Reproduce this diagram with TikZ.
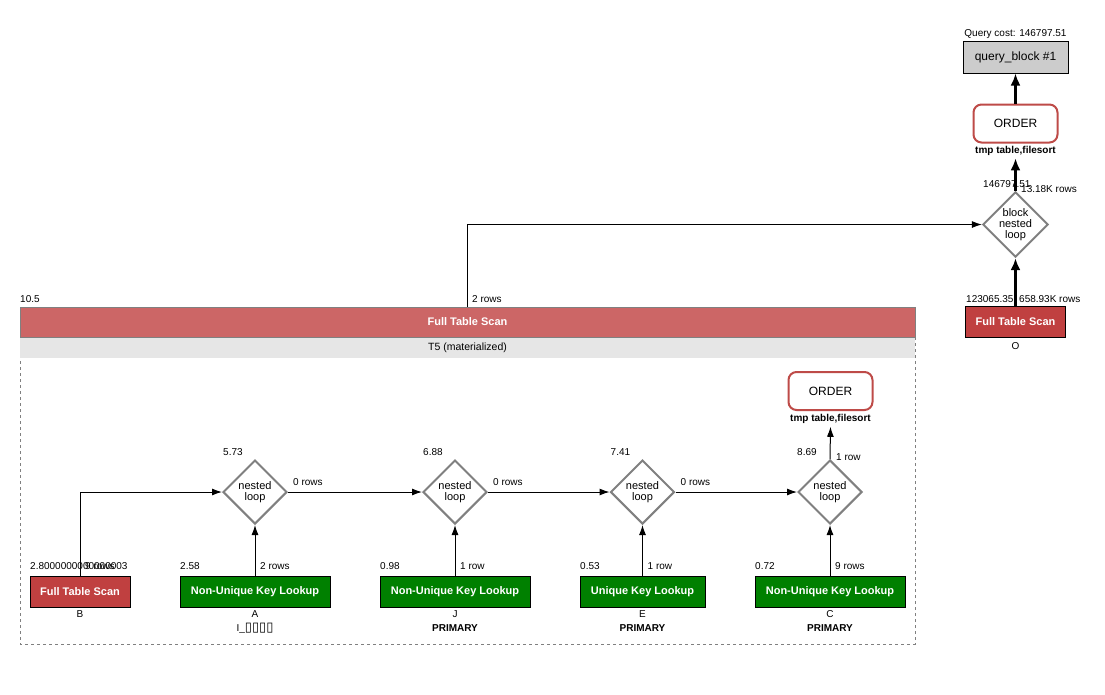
\documentclass[tikz,border=0pt]{standalone}
\usepackage{fontspec}
\setmainfont{Liberation Sans}
\newfontfamily\tofufont{DejaVu Sans}
\usetikzlibrary{shapes.geometric,arrows.meta,calc}

\definecolor{scanred}{RGB}{192,64,64}
\definecolor{headred}{RGB}{204,102,102}
\definecolor{lookgreen}{RGB}{0,128,0}
\definecolor{orderred}{RGB}{190,75,72}
\definecolor{bargray}{RGB}{230,230,230}
\definecolor{blockgray}{RGB}{204,204,204}
\definecolor{loopgray}{RGB}{128,128,128}

\begin{document}
\begin{tikzpicture}[x=1pt,y=-1pt]
  \def\XGL{20}
  \def\XGR{915}
  \def\XGM{467.5}
  \def\XR{1015.5}
  \def\YLOOP{492}
  \def\YBOX{591.5}
  \def\YCOST{569}
  \def\YNAME{617}
  \def\YKEY{631}
  \def\XB{80}
  \def\XA{255}
  \def\XJ{455}
  \def\XE{642.5}
  \def\XC{830}

  \tikzset{
      small/.style={font=\fontsize{10}{12}\selectfont, inner sep=0},
      keyname/.style={font=\bfseries\fontsize{10}{12}\selectfont, inner sep=0},
      opbox/.style={draw=black, line width=1, text=white, inner sep=0,
        font=\bfseries\fontsize{11}{13}\selectfont, minimum height=31},
      scan/.style={opbox, fill=scanred, minimum width=100},
      lookup/.style={opbox, fill=lookgreen, minimum width=150},
      loop/.style={diamond, aspect=1, draw=loopgray, line width=2, fill=white,
        minimum width=64, minimum height=64, inner sep=0, align=center,
        font=\fontsize{11}{11}\selectfont},
      order/.style={draw=orderred, line width=2, rounded corners=8, fill=white,
        minimum width=84, minimum height=38, font=\fontsize{12}{14}\selectfont},
      flow/.style={-{Latex[length=10,width=7]}, line width=1},
      bigflow/.style={-{Latex[length=12,width=10]}, line width=3},
  }

  \useasboundingbox (0,0) rectangle (1105,694);

  % query block and its inputs
  \node [small, anchor=base] (qcost) at (\XR,36) {Query cost: 146797.51};
  \node [draw=black, line width=1, fill=blockgray, minimum width=105,
    minimum height=32, font=\fontsize{12}{14}\selectfont] (qb) at (\XR,57)
    {query\_block \#1};
  \node [order] (order1) at (\XR,123.5) {ORDER};
  \node [keyname, anchor=base] (sort1) at (\XR,153) {tmp table,filesort};
  \node [loop] (bnl) at (\XR,224.5) {block\\nested\\loop};
  \node [scan] (o) at (\XR,321.5) {Full Table Scan};
  \node [small, anchor=base] (oname) at (\XR,349) {O};

  \node [small, anchor=base west] (bnlcost) at (983,187) {146797.51};
  \node [small, anchor=base west] (bnlrows) at (1021,192) {13.18K rows};
  \node [small, anchor=base west] (ocost) at (966,302) {123065.35};
  \node [small, anchor=base west] (orows) at (1019,302) {658.93K rows};

  \draw [bigflow] (order1.north) -- (qb.south);
  \draw [bigflow] (bnl.north) -- ([yshift=-3]sort1.south);
  \draw [bigflow] (o.north) -- (bnl.south);

  % materialized T5
  \draw [loopgray, dashed, line width=1] (\XGL,307) rectangle (\XGR,644);
  \node [draw=loopgray, fill=headred, text=white, inner sep=0,
    minimum width=895, minimum height=30,
    font=\bfseries\fontsize{11}{13}\selectfont] (t5scan) at (\XGM,322)
    {Full Table Scan};
  \node [fill=bargray, inner sep=0, minimum width=895, minimum height=20,
    font=\fontsize{10.5}{12}\selectfont] (t5name) at (\XGM,347.5)
    {T5 (materialized)};
  \node [small, anchor=base west] (t5cost) at (20,302) {10.5};
  \node [small, anchor=base west] (t5rows) at (472,302) {2 rows};
  \draw [flow] (t5scan.north) |- (bnl.west);

  \node [order] (order2) at (830.5,391) {ORDER};
  \node [keyname, anchor=base] (sort2) at (830.5,421.5) {tmp table,filesort};

  \node [loop] (loop1) at (\XA,\YLOOP) {nested\\loop};
  \node [loop] (loop2) at (\XJ,\YLOOP) {nested\\loop};
  \node [loop] (loop3) at (\XE,\YLOOP) {nested\\loop};
  \node [loop] (loop4) at (\XC,\YLOOP) {nested\\loop};

  \node [small, anchor=base west] (cost1) at (223,455) {5.73};
  \node [small, anchor=base west] (cost2) at (423,455) {6.88};
  \node [small, anchor=base west] (cost3) at (610.5,455) {7.41};
  \node [small, anchor=base west] (cost4) at (797,455) {8.69};
  \node [small, anchor=base west] (rows1) at ($(loop1.east)+(5,-7)$) {0 rows};
  \node [small, anchor=base west] (rows2) at ($(loop2.east)+(5,-7)$) {0 rows};
  \node [small, anchor=base west] (rows3) at ($(loop3.east)+(5,-7)$) {0 rows};
  \node [small, anchor=base west] (rows4) at (836,460) {1 row};

  \node [scan] (b) at (\XB,\YBOX) {Full Table Scan};
  \node [lookup] (a) at (\XA,\YBOX) {Non-Unique Key Lookup};
  \node [lookup] (j) at (\XJ,\YBOX) {Non-Unique Key Lookup};
  \node [lookup, minimum width=125] (e) at (\XE,\YBOX) {Unique Key Lookup};
  \node [lookup] (c) at (\XC,\YBOX) {Non-Unique Key Lookup};

  \node [small, anchor=base west] (bcost) at (30,\YCOST) {2.8000000000000003};
  \node [small, anchor=base west] (brows) at (\XB+5,\YCOST) {9 rows};
  \node [small, anchor=base west] (acost) at (180,\YCOST) {2.58};
  \node [small, anchor=base west] (arows) at (\XA+5,\YCOST) {2 rows};
  \node [small, anchor=base west] (jcost) at (380,\YCOST) {0.98};
  \node [small, anchor=base west] (jrows) at (\XJ+5,\YCOST) {1 row};
  \node [small, anchor=base west] (ecost) at (580,\YCOST) {0.53};
  \node [small, anchor=base west] (erows) at (\XE+5,\YCOST) {1 row};
  \node [small, anchor=base west] (ccost) at (755,\YCOST) {0.72};
  \node [small, anchor=base west] (crows) at (\XC+5,\YCOST) {9 rows};

  \node [small, anchor=base] (bname) at (\XB,\YNAME) {B};
  \node [small, anchor=base] (aname) at (\XA,\YNAME) {A};
  \node [small, anchor=base] (jname) at (\XJ,\YNAME) {J};
  \node [small, anchor=base] (ename) at (\XE,\YNAME) {E};
  \node [small, anchor=base] (cname) at (\XC,\YNAME) {C};
  \node [small, anchor=base] (akey) at (\XA,\YKEY)
    {I\_{\tofufont\fontsize{13}{14}\selectfont ▯▯▯▯}};
  \node [keyname, anchor=base] (jkey) at (\XJ,\YKEY) {PRIMARY};
  \node [keyname, anchor=base] (ekey) at (\XE,\YKEY) {PRIMARY};
  \node [keyname, anchor=base] (ckey) at (\XC,\YKEY) {PRIMARY};

  \draw [flow] (b.north) |- (loop1.west);
  \draw [flow] (a.north) -- (loop1.south);
  \draw [flow] (j.north) -- (loop2.south);
  \draw [flow] (e.north) -- (loop3.south);
  \draw [flow] (c.north) -- (loop4.south);
  \draw [flow] (loop1.east) -- (loop2.west);
  \draw [flow] (loop2.east) -- (loop3.west);
  \draw [flow] (loop3.east) -- (loop4.west);
  \draw [flow] (loop4.north) -- ([yshift=-3]sort2.south);
\end{tikzpicture}
\end{document}
